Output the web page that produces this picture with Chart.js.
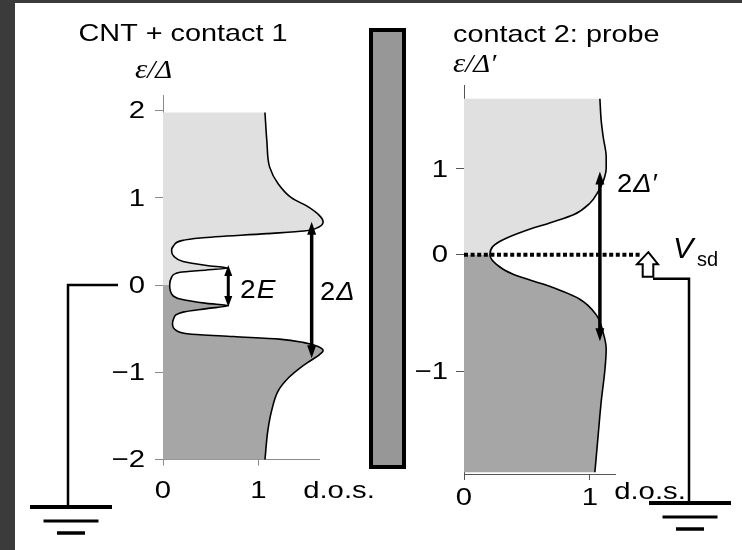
<!DOCTYPE html>
<html>
<head>
<meta charset="utf-8">
<script src="https://cdn.jsdelivr.net/npm/chart.js@4.4.0/dist/chart.umd.min.js"></script>
<style>
  html, body { margin: 0; padding: 0; background: #fff; }
  body { width: 742px; height: 550px; position: relative; overflow: hidden; }
  #edgeL { position: absolute; left: 0; top: 0; width: 15px; height: 550px; background: #3b3b3b; }
  #edgeT { position: absolute; left: 0; top: 0; width: 742px; height: 3px; background: #3b3b3b; }
  #left { position: absolute; left: 0; top: 0; width: 410px; height: 550px; }
  #right { position: absolute; left: 410px; top: 0; width: 332px; height: 550px; }
</style>
</head>
<body>
<div id="edgeL"></div><div id="edgeT"></div>
<canvas id="left" width="410" height="550"></canvas>
<canvas id="right" width="332" height="550"></canvas>
<script>
// CNT + contact 1: energy eps/Delta vs density of states
const leftEps = [-2.0, -1.67, -1.44, -1.21, -1.06, -0.94, -0.865, -0.8, -0.75, -0.7, -0.66, -0.62, -0.59, -0.56, -0.52, -0.45, -0.39, -0.31, -0.27, -0.235, -0.21, -0.16, -0.1, 0, 0.09, 0.147, 0.174, 0.195, 0.224, 0.27, 0.33, 0.395, 0.45, 0.51, 0.54, 0.59, 0.62, 0.67, 0.727, 0.8, 0.9, 1.0, 1.16, 1.35, 1.65, 1.98];
const leftDos = [1.07, 1.10, 1.14, 1.21, 1.32, 1.45, 1.55, 1.64, 1.68, 1.62, 1.48, 1.22, 0.74, 0.28, 0.14, 0.10, 0.11, 0.21, 0.46, 0.685, 0.46, 0.18, 0.09, 0.07, 0.09, 0.18, 0.46, 0.685, 0.46, 0.21, 0.115, 0.09, 0.11, 0.196, 0.39, 1.09, 1.48, 1.64, 1.68, 1.64, 1.52, 1.35, 1.21, 1.12, 1.09, 1.07];
const leftYTicks = [-2, -1, 0, 1, 2];
const leftXTicks = [0, 1];
// gap arrows: 2Delta and 2E
const leftArrowX = [1.56, 0.685];
const leftArrowTop = [0.727, 0.23];
const leftArrowBottom = [-0.84, -0.25];

// contact 2: probe
const rightEps = [-2.54, -2.11, -1.72, -1.34, -1.10, -0.91, -0.70, -0.52, -0.37, -0.23, -0.116, 0, 0.097, 0.174, 0.27, 0.37, 0.465, 0.60, 0.736, 0.87, 1.01, 1.14, 1.376, 1.57, 1.82];
const rightDos = [1.04, 1.066, 1.09, 1.12, 1.13, 1.106, 1.05, 0.92, 0.68, 0.39, 0.26, 0.206, 0.23, 0.31, 0.47, 0.68, 0.87, 1.0, 1.066, 1.11, 1.13, 1.13, 1.106, 1.09, 1.08];
const rightYTicks = [-1.36, 0, 1];
const rightYLabels = ['\u22121', '0', '1'];
const rightXTicks = [0, 1];
const rightArrowX = [1.08];
const rightArrowTop = [0.97];
const rightArrowBottom = [-1.01];
const vsdEnd = 1.4;   // end of the dotted Fermi level

const LIGHT = '#e0e0e0', DARK = '#a6a6a6';
const F = (size, italic) => (italic ? 'italic ' : '') + size + 'px "Liberation Sans", Arial, sans-serif';
const minus = v => (v < 0 ? '\u2212' : '') + Math.abs(v);
const pts = (xs, ys) => ys.map((y, i) => ({ x: xs[i], y }));
const TICK = { font: F(24), sx: 1.22 };

// text with horizontal stretch (the reference type is set wide)
function txt(ctx, s, x, y, o) {
  ctx.save();
  ctx.fillStyle = '#000';
  ctx.font = o.font;
  ctx.textAlign = o.align || 'left';
  ctx.textBaseline = o.base || 'alphabetic';
  ctx.translate(x, y);
  ctx.scale(o.sx || 1, 1);
  ctx.fillText(s, 0, 0);
  ctx.restore();
}
// "2" upright followed by an italic symbol
function twoSym(ctx, sym, x, y, sx) {
  ctx.save();
  ctx.fillStyle = '#000';
  ctx.translate(x, y); ctx.scale(sx, 1);
  ctx.font = F(26); ctx.fillText('2', 0, 0);
  const w = ctx.measureText('2').width;
  ctx.font = F(26, true); ctx.fillText(sym, w + 1, 0);
  ctx.restore();
}
function axisName(ctx, x, y, prime) {
  ctx.save();
  ctx.fillStyle = '#000';
  ctx.translate(x, y); ctx.scale(1.15, 1);
  ctx.font = 'italic 27px "Liberation Serif", serif';
  ctx.fillText('\u03b5', 0, 0);
  const w = ctx.measureText('\u03b5').width;
  ctx.font = 'italic 25px "Liberation Serif", serif';
  ctx.fillText('/\u0394' + (prime ? '\u2032' : ''), w, 0);
  ctx.restore();
}
function arrow(ctx, x, y1, y2, lw, hl, hw) {
  ctx.save();
  ctx.strokeStyle = ctx.fillStyle = '#000';
  ctx.lineWidth = lw;
  ctx.beginPath(); ctx.moveTo(x, y1 + hl * 0.7); ctx.lineTo(x, y2 - hl * 0.7); ctx.stroke();
  [[y1, 1], [y2, -1]].forEach(([y, d]) => {
    ctx.beginPath(); ctx.moveTo(x, y);
    ctx.lineTo(x - hw, y + d * hl); ctx.lineTo(x + hw, y + d * hl);
    ctx.closePath(); ctx.fill();
  });
  ctx.restore();
}
function ground(ctx, cx, y) {
  ctx.save();
  ctx.strokeStyle = '#000';
  [[41, 4, 0], [27.5, 3, 14], [14, 3.5, 26]].forEach(([hw, lw, dy]) => {
    ctx.lineWidth = lw;
    ctx.beginPath(); ctx.moveTo(cx - hw, y + dy); ctx.lineTo(cx + hw, y + dy); ctx.stroke();
  });
  ctx.restore();
}

// shade between the d.o.s. curve and the energy axis: light above 0, dark below
const areaFill = {
  id: 'areaFill',
  beforeDatasetsDraw(chart) {
    const { ctx, chartArea } = chart;
    const meta = chart.getDatasetMeta(0);
    const line = meta.dataset;
    line.updateControlPoints(chartArea, 'y');
    const p = meta.data;
    const x0 = chart.scales.x.getPixelForValue(0);
    const y0 = chart.scales.y.getPixelForValue(0);
    [[0, y0, LIGHT], [y0, chart.height, DARK]].forEach(([top, bot, col]) => {
      ctx.save();
      ctx.beginPath(); ctx.rect(0, top, chart.width, bot - top); ctx.clip();
      ctx.beginPath();
      if (typeof line.path === 'function') line.path(ctx);
      else p.forEach((q, i) => i ? ctx.lineTo(q.x, q.y) : ctx.moveTo(q.x, q.y));
      ctx.lineTo(x0, p[p.length - 1].y);
      ctx.lineTo(x0, p[0].y);
      ctx.closePath();
      ctx.fillStyle = col; ctx.fill();
      ctx.restore();
    });
  }
};

function curve(data) {
  return {
    data, borderColor: '#000', borderWidth: 1.6, pointRadius: 0, fill: false,
    cubicInterpolationMode: 'monotone', capBezierPoints: false, clip: false
  };
}
function axes(xMax, yMin, yMax, xTicks, yTicks, yWidth, col) {
  return {
    x: {
      type: 'linear', min: 0, max: xMax,
      afterBuildTicks: s => { s.ticks = xTicks.map(v => ({ value: v })); },
      afterFit: s => { s.height = 60; },
      grid: { drawOnChartArea: false, tickLength: 6, color: col },
      border: { color: col, width: 1 },
      ticks: { display: false }
    },
    y: {
      type: 'linear', min: yMin, max: yMax,
      afterBuildTicks: s => { s.ticks = yTicks.map(v => ({ value: v })); },
      afterFit: s => { s.width = yWidth; },
      grid: { drawOnChartArea: false, tickLength: 8, color: col },
      border: { color: col, width: 1 },
      ticks: { display: false }
    }
  };
}

const leftDecor = {
  id: 'leftDecor',
  afterDraw(chart) {
    const { ctx } = chart;
    const xs = chart.scales.x, ys = chart.scales.y;
    ys.ticks.forEach(t => txt(ctx, minus(t.value), 145, ys.getPixelForValue(t.value) + 1, Object.assign({ align: 'right', base: 'middle' }, TICK)));
    xs.ticks.forEach(t => txt(ctx, minus(t.value), xs.getPixelForValue(t.value), 498, Object.assign({ align: 'center' }, TICK)));
    txt(ctx, 'd.o.s.', 339, 498, Object.assign({ align: 'center' }, TICK));
    txt(ctx, 'CNT + contact 1', 183, 40.5, { font: F(24), align: 'center', sx: 1.2 });
    axisName(ctx, 135, 78, false);

    leftArrowX.forEach((v, i) => {
      const big = i === 0;
      arrow(ctx, xs.getPixelForValue(v), ys.getPixelForValue(leftArrowTop[i]), ys.getPixelForValue(leftArrowBottom[i]),
        big ? 3.5 : 3, big ? 13 : 11, big ? 4.5 : 4);
    });
    twoSym(ctx, 'E', 240, 297.5, 1.08);
    twoSym(ctx, '\u0394', 320, 300, 1.05);

    // wire from contact 1 to ground
    const y0 = ys.getPixelForValue(0);
    ctx.save();
    ctx.strokeStyle = '#000'; ctx.lineWidth = 2.5;
    ctx.beginPath(); ctx.moveTo(118, y0); ctx.lineTo(68, y0); ctx.lineTo(68, 507); ctx.stroke();
    ctx.restore();
    ground(ctx, 71, 507);

    // tunnel barrier
    ctx.save();
    ctx.fillStyle = '#979797'; ctx.fillRect(369, 28, 37, 441);
    ctx.strokeStyle = '#000'; ctx.lineWidth = 4; ctx.strokeRect(371, 30, 33, 437);
    ctx.restore();
  }
};

const rightDecor = {
  id: 'rightDecor',
  afterDatasetsDraw(chart) {
    const { ctx } = chart;
    const xs = chart.scales.x, ys = chart.scales.y;
    const y0 = ys.getPixelForValue(0);
    ctx.save();
    ctx.strokeStyle = '#000'; ctx.lineWidth = 4; ctx.setLineDash([4, 2.6]);
    ctx.beginPath(); ctx.moveTo(xs.getPixelForValue(0), y0); ctx.lineTo(xs.getPixelForValue(vsdEnd), y0); ctx.stroke();
    ctx.restore();
  },
  afterDraw(chart) {
    const { ctx } = chart;
    const xs = chart.scales.x, ys = chart.scales.y;
    ys.ticks.forEach((t, i) => txt(ctx, rightYLabels[i], 38, ys.getPixelForValue(t.value) + 1, Object.assign({ align: 'right', base: 'middle' }, TICK)));
    xs.ticks.forEach(t => txt(ctx, minus(t.value), xs.getPixelForValue(t.value), 505, Object.assign({ align: 'center' }, TICK)));
    txt(ctx, 'd.o.s.', 240, 499, Object.assign({ align: 'center' }, TICK));
    txt(ctx, 'contact 2: probe', 43, 41.5, { font: F(24), sx: 1.2 });
    axisName(ctx, 43, 72, true);

    rightArrowX.forEach((v, i) => {
      arrow(ctx, xs.getPixelForValue(v), ys.getPixelForValue(rightArrowTop[i]), ys.getPixelForValue(rightArrowBottom[i]), 3.5, 13, 4.5);
    });
    twoSym(ctx, '\u0394\u2032', 207, 192, 1.05);

    // V_sd source: hollow arrow, wire and ground
    const y0 = ys.getPixelForValue(0);
    ctx.save();
    ctx.strokeStyle = '#000'; ctx.fillStyle = '#fff'; ctx.lineWidth = 2;
    ctx.beginPath();
    ctx.moveTo(238.3, y0 - 2.5);
    ctx.lineTo(248, y0 + 9.5); ctx.lineTo(243.3, y0 + 9.5); ctx.lineTo(243.3, y0 + 22);
    ctx.lineTo(232.7, y0 + 22); ctx.lineTo(232.7, y0 + 9.5); ctx.lineTo(227, y0 + 9.5);
    ctx.closePath(); ctx.fill(); ctx.stroke();
    ctx.lineWidth = 2.5;
    ctx.beginPath(); ctx.moveTo(243, y0 + 24); ctx.lineTo(279, y0 + 24); ctx.lineTo(279, 503); ctx.stroke();
    ctx.restore();
    ground(ctx, 280, 503);
    txt(ctx, 'V', 263, 258, { font: F(29, true), sx: 1.05 });
    txt(ctx, 'sd', 287, 266, { font: F(20) });
  }
};

const base = {
  responsive: false, animation: false, indexAxis: 'y', events: [],
  plugins: { legend: { display: false }, tooltip: { enabled: false } }
};

new Chart(document.getElementById('left'), {
  type: 'line',
  data: { datasets: [curve(pts(leftDos, leftEps))] },
  options: Object.assign({}, base, {
    layout: { padding: { left: 0, top: 95, right: 91, bottom: 30.5 } },
    scales: axes(1.637, -2, 2.18, leftXTicks, leftYTicks, 163, '#8a8a8a')
  }),
  plugins: [areaFill, leftDecor]
});

new Chart(document.getElementById('right'), {
  type: 'line',
  data: { datasets: [curve(pts(rightDos, rightEps))] },
  options: Object.assign({}, base, {
    layout: { padding: { left: 0, top: 85, right: 127, bottom: 16 } },
    scales: axes(1.2, -2.56, 1.98, rightXTicks, rightYTicks, 54, '#555')
  }),
  plugins: [areaFill, rightDecor]
});
</script>
</body>
</html>
